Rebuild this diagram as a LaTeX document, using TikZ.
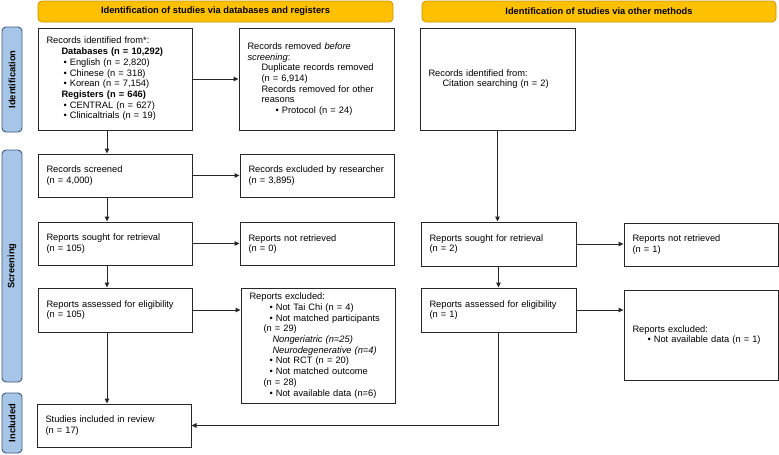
\documentclass[tikz,border=0pt]{standalone}
\usepackage{fontspec}
\setmainfont{Liberation Sans}
\usetikzlibrary{arrows.meta}
\definecolor{hdrfill}{HTML}{FFC000}
\definecolor{hdrline}{HTML}{C99700}
\definecolor{sidefill}{HTML}{A7C5E6}
\definecolor{sideline}{HTML}{3C5A7E}
\tikzset{
  txt/.style={font=\fontsize{9.3}{10.7}\selectfont},
  box/.style={txt, draw=black!85, line width=1pt, align=left, inner xsep=8.5pt, inner ysep=2pt},
  hdr/.style={txt, font=\fontsize{9.3}{10.7}\selectfont\bfseries, fill=hdrfill, draw=hdrline, line width=0.8pt, rounded corners=4pt},
  side/.style={font=\fontsize{9.3}{10.7}\selectfont\bfseries, fill=sidefill, draw=sideline, line width=0.9pt, rounded corners=4pt, rotate=90},
  arr/.style={line width=1pt, draw=black!85, -{Triangle[length=5pt,width=4.5pt]}},
  ln/.style={line width=1pt, draw=black!85}
}
\begin{document}
\begin{tikzpicture}[x=1pt,y=-1pt]
\useasboundingbox (0,0) rectangle (779,455);
% headers
\node[hdr, minimum width=355pt, minimum height=21pt] (h1) at (215.5,11.5) {Identification of studies via databases and registers};
\node[hdr, minimum width=354pt, minimum height=21pt] (h2) at (599,11.5) {Identification of studies via other methods};
% side labels
\node[side, minimum width=105pt, minimum height=20pt] (s1) at (12,79.5) {Identification};
\node[side, minimum width=232pt, minimum height=20pt] (s2) at (12,266) {Screening};
\node[side, minimum width=60pt, minimum height=20pt] (s3) at (12,423) {Included};
% left column
\node[box, text width=137pt, minimum height=102pt] (A) at (115,79) {Records identified from*:\\
\hspace*{15pt}\textbf{Databases (n = 10,292)}\\
\hspace*{17pt}• English (n = 2,820)\\
\hspace*{17pt}• Chinese (n = 318)\\
\hspace*{17pt}• Korean (n = 7,154)\\
\hspace*{15pt}\textbf{Registers (n = 646)}\\
\hspace*{17pt}• CENTRAL (n = 627)\\
\hspace*{17pt}• Clinicaltrials (n = 19)};
\node[box, text width=138pt, minimum height=102pt] (B) at (316.5,79) {Records removed \textit{before}\\
\textit{screening}:\\
\hspace*{14pt}Duplicate records removed\\
\hspace*{14pt}(n = 6,914)\\
\hspace*{14pt}Records removed for other\\
\hspace*{14pt}reasons\\
\hspace*{28pt}• Protocol (n = 24)};
\node[box, text width=137pt, minimum height=43pt] (scr) at (115,175.5) {Records screened\\(n = 4,000)};
\node[box, text width=137pt, minimum height=43pt] (exr) at (317,175.5) {Records excluded by researcher\\(n = 3,895)};
\node[box, text width=137pt, minimum height=43pt] (sou) at (115,243.5) {Reports sought for retrieval\\(n = 105)};
\node[box, text width=137pt, minimum height=43pt] (nre) at (317,244) {Reports not retrieved\\(n = 0)};
\node[box, text width=137pt, minimum height=44pt] (ass) at (115,310) {Reports assessed for eligibility\\(n = 105)};
\node[box, text width=137pt, minimum height=115pt] (exc) at (318,345.5) {Reports excluded:\\
\hspace*{20pt}• Not Tai Chi (n = 4)\\
\hspace*{20pt}• Not matched participants\\
\hspace*{14pt}(n = 29)\\
\hspace*{23pt}\textit{Nongeriatric (n=25)}\\
\hspace*{23pt}\textit{Neurodegenerative (n=4)}\\
\hspace*{20pt}• Not RCT (n = 20)\\
\hspace*{20pt}• Not matched outcome\\
\hspace*{14pt}(n = 28)\\
\hspace*{20pt}• Not available data (n=6)};
\node[box, text width=137pt, minimum height=43pt] (inc) at (114,425.5) {Studies included in review\\(n = 17)};
% right column
\node[box, text width=138pt, minimum height=102pt] (C) at (497.5,79) {Records identified from:\\
\hspace*{14pt}Citation searching (n = 2)};
\node[box, text width=138pt, minimum height=44pt] (sou2) at (498.5,244) {Reports sought for retrieval\\(n = 2)};
\node[box, text width=137pt, minimum height=43pt] (nre2) at (701,244.5) {Reports not retrieved\\(n = 1)};
\node[box, text width=138pt, minimum height=44pt] (ass2) at (498.5,310) {Reports assessed for eligibility\\(n = 1)};
\node[box, text width=137pt, minimum height=90pt] (exc2) at (701,335) {Reports excluded:\\
\hspace*{15pt}• Not available data (n = 1)};
% connectors
\draw[arr] (A) -- (B);
\draw[arr] ([xshift=-8pt]A.south) -- ([xshift=-8pt]A.south |- scr.north);
\draw[arr] (scr) -- (exr);
\draw[arr] ([xshift=-8pt]scr.south) -- ([xshift=-8pt]scr.south |- sou.north);
\draw[arr] (sou.east) -- (sou.east -| nre.west);
\draw[arr] ([xshift=-8pt]sou.south) -- ([xshift=-8pt]sou.south |- ass.north);
\draw[arr] (ass.east) -- (ass.east -| exc.west);
\draw[arr] ([xshift=-8pt]ass.south) -- ([xshift=-8pt]ass.south |- inc.north);
\draw[arr] (C.south) -- (C.south |- sou2.north);
\draw[arr] (sou2.east) -- (sou2.east -| nre2.west);
\draw[arr] (sou2.south) -- (sou2.south |- ass2.north);
\draw[arr] (ass2.east) -- (ass2.east -| exc2.west);
\draw[arr] (ass2.south) |- (inc.east);
\end{tikzpicture}
\end{document}
